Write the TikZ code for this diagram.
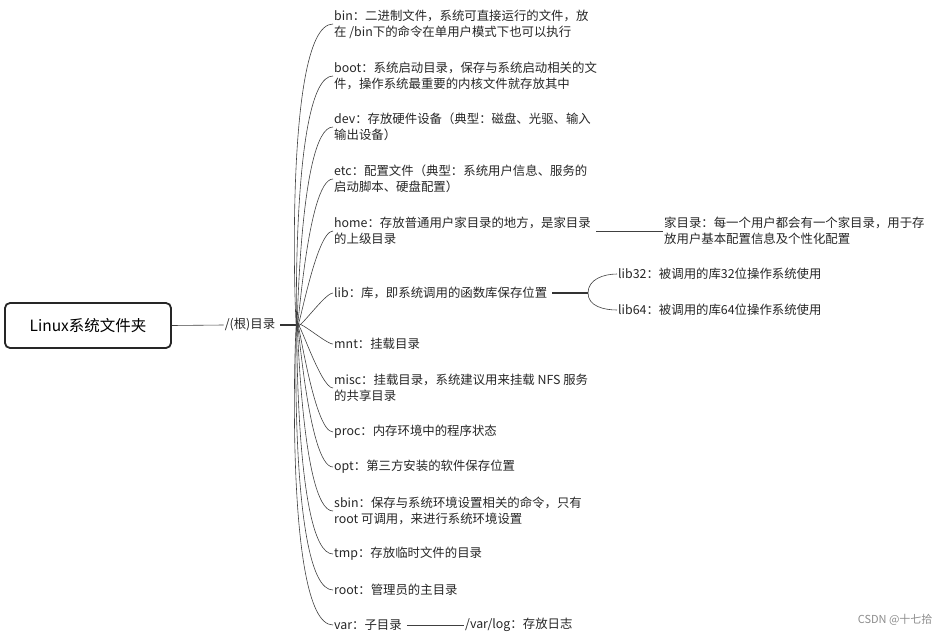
\documentclass[tikz,border=0pt]{standalone}
\usepackage{fontspec}
\setmainfont{Noto Sans CJK SC}
\usetikzlibrary{positioning}
\tikzset{
  leaf/.style={inner sep=1pt, align=left, anchor=west, font=\fontsize{12.4}{16}\selectfont, text=black!85},
  twig/.style={draw=black!75, line width=0.6pt},
  stub/.style={draw=black!80, line width=1.6pt}
}
\begin{document}
\begin{tikzpicture}[x=1pt,y=-1pt]
  \useasboundingbox (0,0) rectangle (950,637);
  % root and hub
  \node [draw=black!85, line width=1.8pt, rounded corners=5pt, minimum width=166, minimum height=45,
         font=\fontsize{15.5}{18}\selectfont] (top) at (88,325.5) {Linux系统文件夹};
  \node [leaf, anchor=center] (hub) at (250,325) {/(根)目录};
  \coordinate (hubR) at (297,325);
  \draw [twig] (top.east) -- (hub.west);
  \draw [stub] (hub.east) ++(4,0) -- (hubR);
  % first level
  \node [leaf] (bin)  at (333,24)  {bin：二进制文件，系统可直接运行的文件，放\\在 /bin下的命令在单用户模式下也可以执行};
  \node [leaf] (boot) at (333,76)  {boot：系统启动目录，保存与系统启动相关的文\\件，操作系统最重要的内核文件就存放其中};
  \node [leaf] (dev)  at (333,127) {dev：存放硬件设备（典型：磁盘、光驱、输入\\输出设备）};
  \node [leaf] (etc)  at (333,179) {etc：配置文件（典型：系统用户信息、服务的\\启动脚本、硬盘配置）};
  \node [leaf] (home) at (333,231) {home：存放普通用户家目录的地方，是家目录\\的上级目录};
  \node [leaf] (lib)  at (333,293) {lib：库，即系统调用的函数库保存位置};
  \node [leaf] (mnt)  at (333,344) {mnt：挂载目录};
  \node [leaf] (misc) at (333,388) {misc：挂载目录，系统建议用来挂载 NFS 服务\\的共享目录};
  \node [leaf] (proc) at (333,432) {proc：内存环境中的程序状态};
  \node [leaf] (opt)  at (333,467) {opt：第三方安装的软件保存位置};
  \node [leaf] (sbin) at (333,511) {sbin：保存与系统环境设置相关的命令，只有\\root 可调用，来进行系统环境设置};
  \node [leaf] (tmp)  at (333,554) {tmp：存放临时文件的目录};
  \node [leaf] (root) at (333,590) {root：管理员的主目录};
  \node [leaf] (var)  at (333,625) {var：子目录};
  \foreach \n in {bin,boot,dev,etc,home,lib}
    \draw [twig] (hubR) to[out=-90,in=180,looseness=0.45] (\n.west);
  \foreach \n in {mnt,misc,proc,opt,sbin,tmp,root,var}
    \draw [twig] (hubR) to[out=90,in=180,looseness=0.45] (\n.west);
  % second level
  \node [leaf] (homeK) at (663,231) {家目录：每一个用户都会有一个家目录，用于存\\放用户基本配置信息及个性化配置};
  \draw [twig] (home.east) ++(4,0) -- (homeK.west);
  \node [leaf] (lib32) at (617,274) {lib32：被调用的库32位操作系统使用};
  \node [leaf] (lib64) at (617,310) {lib64：被调用的库64位操作系统使用};
  \coordinate (libR) at (588,293);
  \draw [stub, line width=1.2pt] (lib.east) ++(4,0) -- (libR);
  \draw [twig] (libR) to[out=90,in=180] (lib32.west);
  \draw [twig] (libR) to[out=-90,in=180] (lib64.west);
  \node [leaf] (varlog) at (464,625) {/var/log：存放日志};
  \draw [twig] (var.east) ++(4,0) -- (varlog.west);
  % watermark
  \node [font=\fontsize{11}{13}\selectfont, text=black!45, anchor=east] (mark) at (936,620) {CSDN @十七拾};
\end{tikzpicture}
\end{document}
